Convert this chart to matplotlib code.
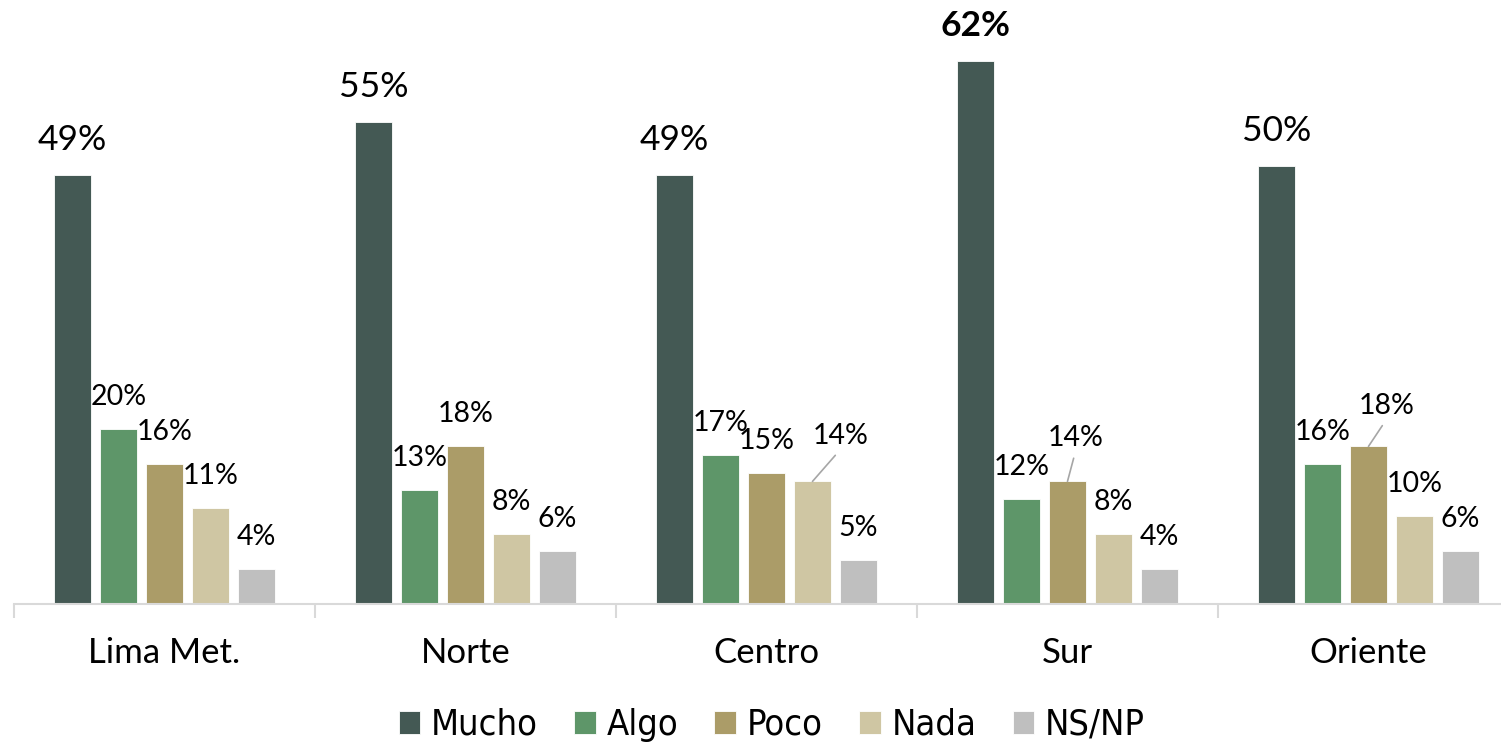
import numpy as np
import matplotlib.pyplot as plt

# datos
regiones = ['Lima Met.', 'Norte', 'Centro', 'Sur', 'Oriente']
series = ['Mucho', 'Algo', 'Poco', 'Nada', 'NS/NP']
mucho = [49, 55, 49, 62, 50]
algo = [20, 13, 17, 12, 16]
poco = [16, 18, 15, 14, 18]
nada = [11, 8, 14, 8, 10]
nsnp = [4, 6, 5, 4, 6]

colores = ['#445954', '#5e9669', '#ab9c68', '#cfc6a3', '#bfbfbf']

valores = [mucho, algo, poco, nada, nsnp]

# etiquetas desplazadas (serie, region) -> (dx, dy) en pixeles, con linea guia
desplazadas = {(3, 2): (28, 32), (2, 3): (8, 30), (2, 4): (18, 27)}

fig = plt.figure(figsize=(15.01, 7.43), dpi=100)
ax = fig.add_axes([14 / 1501, 139 / 743, 1486 / 1501, 584 / 743])

x = np.arange(len(regiones))
paso = 46 / 301
ancho = 37 / 301

for i, (nombre, vals) in enumerate(zip(series, valores)):
    pos = x + (i - 2) * paso
    ax.bar(pos, vals, width=ancho, color=colores[i], label=nombre,
           edgecolor='white', linewidth=0.6)
    for j, v in enumerate(vals):
        if i == 0:
            size = 25.5
            peso = 'bold' if v == max(mucho) else 'normal'
        else:
            size = 20.5
            peso = 'normal'
        dx, dy = desplazadas.get((i, j), (0, 19))
        kw = {}
        if (i, j) in desplazadas:
            kw['arrowprops'] = dict(arrowstyle='-', color='#a6a6a6', lw=1.2,
                                    shrinkA=3, shrinkB=0, relpos=(0.5, 0))
        ax.annotate(f'{v}%', xy=(pos[j], v), xytext=(dx * 0.72, dy * 0.72),
                    textcoords='offset points', ha='center', va='bottom',
                    fontsize=size, fontweight=peso, family='Lato',
                    color='black', **kw)

ax.set_xlim(-0.5, 4.437)
ax.set_ylim(0, 66.7)
ax.set_yticks([])
for s in ['top', 'right', 'left']:
    ax.spines[s].set_visible(False)
ax.spines['bottom'].set_color('#d9d9d9')
ax.spines['bottom'].set_linewidth(1.5)

ax.set_xticks(x)
ax.set_xticklabels(regiones, fontsize=25, family='Lato')
ax.tick_params(axis='x', which='major', length=0, pad=24)
ax.set_xticks(np.arange(-0.5, 4.5, 1), minor=True)
ax.tick_params(axis='x', which='minor', length=10, color='#d9d9d9', width=1.5)

ax.legend(loc='center', bbox_to_anchor=(0.51, -0.207), ncol=5,
          frameon=False, handlelength=0.6, handleheight=0.6,
          handletextpad=0.3, columnspacing=1.0,
          prop={'family': 'DejaVu Sans', 'stretch': 'condensed', 'size': 26})

fig.savefig('out.png', dpi=100)
